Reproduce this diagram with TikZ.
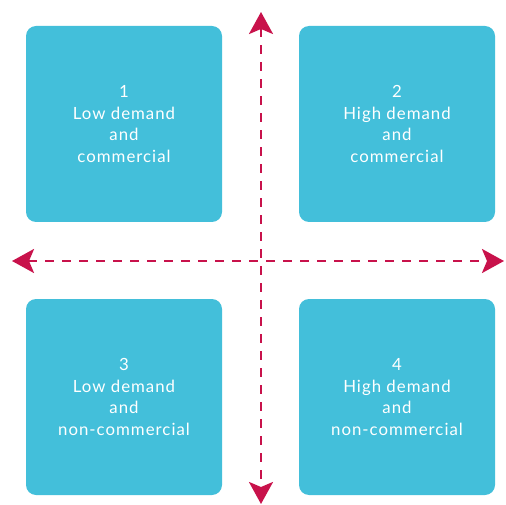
\documentclass[tikz,border=0pt]{standalone}
\usepackage{fontspec}
\setmainfont{Lato}[LetterSpace=6]
\usetikzlibrary{arrows.meta}
\definecolor{boxblue}{HTML}{43BFDA}
\definecolor{axisred}{HTML}{C8124B}
\tikzset{
  quad/.style={fill=boxblue, rounded corners=10pt, draw=none},
  quadtext/.style={text=white, align=center, font=\fontsize{16.8}{21.5}\selectfont},
  axis/.style={draw=axisred, line width=2.6pt, dash pattern=on 9pt off 8pt,
    {Stealth[length=22pt,width=24pt,inset=5pt]}-{Stealth[length=22pt,width=24pt,inset=5pt]}}
}
\begin{document}
\begin{tikzpicture}[x=1pt,y=-1pt]
\useasboundingbox (0,0) rectangle (506,505);
\fill[quad] (26,26) rectangle (222,222);
\fill[quad] (299,26) rectangle (495,222);
\fill[quad] (26,299) rectangle (222,495);
\fill[quad] (299,299) rectangle (495,495);
\node[quadtext] (q1) at (124,124) {1\\Low demand\\and\\commercial};
\node[quadtext] (q2) at (397,124) {2\\High demand\\and\\commercial};
\node[quadtext] (q3) at (124,397) {3\\Low demand\\and\\non-commercial};
\node[quadtext] (q4) at (397,397) {4\\High demand\\and\\non-commercial};
\coordinate (top) at (261,12);
\coordinate (bottom) at (261,504);
\coordinate (left) at (12,261);
\coordinate (right) at (504,261);
\draw[axis] (top) -- (bottom);
\draw[axis] (left) -- (right);
\end{tikzpicture}
\end{document}
